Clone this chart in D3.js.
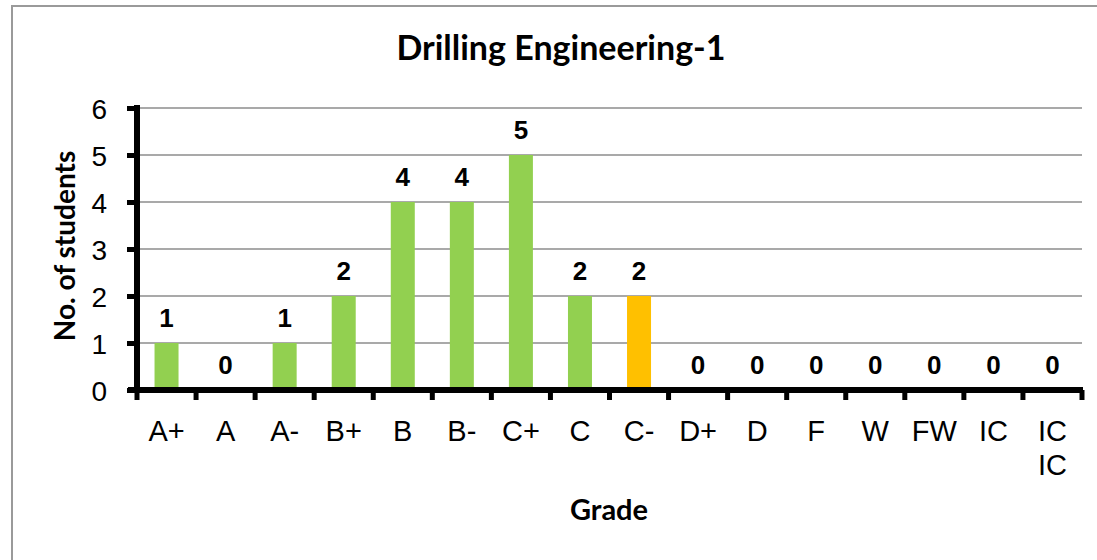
<!DOCTYPE html>
<html lang="en">
  <head>
    <meta charset="UTF-8" />
    <title>Drilling Engineering-1</title>
    <style>
      body { margin: 0; background: #fff; }
      svg { display: block; }
      .tick-label { font-family: Arial, "Liberation Sans", sans-serif; }
      .bold-title { font-family: Lato, "Open Sans", sans-serif; font-weight: bold; }
    </style>
  </head>
  <body>
    <svg width="1097" height="560"></svg>

    <script src="https://d3js.org/d3.v7.min.js"></script>
    <script>
      // Grade categories and student counts
      const grades = ["A+", "A", "A-", "B+", "B", "B-", "C+", "C", "C-", "D+", "D", "F", "W", "FW", "IC", "IC IC"];
      const counts = [1, 0, 1, 2, 4, 4, 5, 2, 2, 0, 0, 0, 0, 0, 0, 0];
      const highlight = ["C-"]; // drawn in orange
      const yTicks = [0, 1, 2, 3, 4, 5, 6];

      const w = 1097;
      const h = 560;
      const plotLeft = 137, plotRight = 1082, plotTop = 108, plotBottom = 390;

      const svg = d3.select("svg");

      // chart border
      svg.append("rect")
        .attr("x", 12).attr("y", 6)
        .attr("width", w).attr("height", h)
        .attr("fill", "none")
        .attr("stroke", "#9a9a9a")
        .attr("stroke-width", 2);

      const x = d3.scaleBand().domain(grades).range([plotLeft, plotRight]).paddingInner(0).paddingOuter(0);
      const y = d3.scaleLinear().domain([0, 6]).range([plotBottom, plotTop]);

      // gridlines
      svg.append("g")
        .selectAll("line")
        .data(yTicks.filter((d) => d > 0))
        .join("line")
        .attr("x1", plotLeft).attr("x2", plotRight)
        .attr("y1", (d) => y(d)).attr("y2", (d) => y(d))
        .attr("stroke", "#8c8c8c")
        .attr("stroke-width", 1.6);

      // bars
      const barW = 24;
      svg.append("g")
        .selectAll("rect")
        .data(grades)
        .join("rect")
        .attr("x", (d) => x(d) + x.bandwidth() / 2 - barW / 2)
        .attr("y", (d, i) => y(counts[i]))
        .attr("width", barW)
        .attr("height", (d, i) => plotBottom - y(counts[i]))
        .attr("fill", (d) => (highlight.includes(d) ? "#FFC000" : "#92D050"));

      // data labels
      svg.append("g")
        .selectAll("text")
        .data(grades)
        .join("text")
        .attr("class", "tick-label")
        .attr("x", (d) => x(d) + x.bandwidth() / 2)
        .attr("y", (d, i) => y(counts[i]) - 16)
        .attr("text-anchor", "middle")
        .attr("font-size", 26)
        .attr("font-weight", "bold")
        .text((d, i) => counts[i]);

      // y axis
      const yAxis = d3.axisLeft(y).tickValues(yTicks).tickFormat(d3.format("d")).tickSize(10).tickPadding(20);
      const gy = svg.append("g")
        .attr("transform", `translate(${plotLeft},0)`)
        .call(yAxis);
      gy.select(".domain").attr("stroke", "#000").attr("stroke-width", 6)
        .attr("d", `M0,${plotTop - 3}V${plotBottom + 3}`);
      gy.selectAll(".tick line").attr("stroke", "#000").attr("stroke-width", 5);
      gy.selectAll(".tick text")
        .attr("class", "tick-label")
        .attr("font-size", 28)
        .attr("fill", "#000")
        .attr("dy", "0.36em");

      // x axis
      const xTickPos = grades.map((d) => x(d)).concat([plotRight]);
      const gx = svg.append("g");
      gx.append("line")
        .attr("x1", plotLeft - 9).attr("x2", plotRight + 1)
        .attr("y1", plotBottom).attr("y2", plotBottom)
        .attr("stroke", "#000").attr("stroke-width", 6);
      gx.selectAll("line.tk")
        .data(xTickPos)
        .join("line")
        .attr("class", "tk")
        .attr("x1", (d) => d).attr("x2", (d) => d)
        .attr("y1", plotBottom).attr("y2", plotBottom + 10)
        .attr("stroke", "#000").attr("stroke-width", 5);
      gx.selectAll("text")
        .data(grades)
        .join("text")
        .attr("class", "tick-label")
        .attr("x", (d) => x(d) + x.bandwidth() / 2)
        .attr("y", 441)
        .attr("text-anchor", "middle")
        .attr("font-size", 29)
        .each(function (d) {
          const parts = d.split(" ");
          d3.select(this).selectAll("tspan")
            .data(parts)
            .join("tspan")
            .attr("x", x(d) + x.bandwidth() / 2)
            .attr("dy", (p, j) => (j === 0 ? 0 : 34))
            .text((p) => p);
        });

      // titles
      svg.append("text")
        .attr("class", "bold-title")
        .attr("x", 561).attr("y", 60)
        .attr("text-anchor", "middle")
        .attr("font-size", 34)
        .text("Drilling Engineering-1");

      svg.append("text")
        .attr("class", "bold-title")
        .attr("transform", "translate(75,246) rotate(-90)")
        .attr("text-anchor", "middle")
        .attr("font-size", 28)
        .text("No. of students");

      svg.append("text")
        .attr("class", "bold-title")
        .attr("x", 609).attr("y", 520)
        .attr("text-anchor", "middle")
        .attr("font-size", 29)
        .text("Grade");
    </script>
  </body>
</html>
